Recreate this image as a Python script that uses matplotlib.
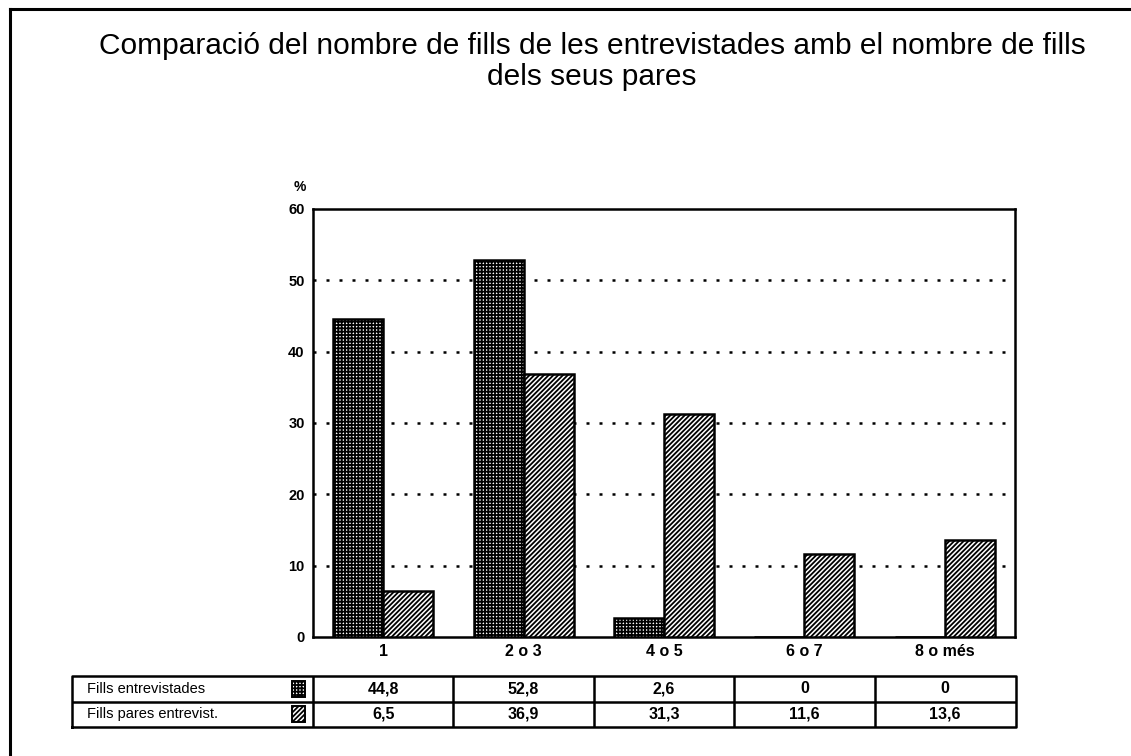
import matplotlib

matplotlib.use("Agg")
import matplotlib.pyplot as plt
from matplotlib.lines import Line2D
from matplotlib.patches import Rectangle
import numpy as np

plt.rcParams["font.family"] = ["Liberation Sans", "DejaVu Sans"]
plt.rcParams["hatch.linewidth"] = 1.3

categories = ["1", "2 o 3", "4 o 5", "6 o 7", "8 o més"]
fills_entrevistades = [44.6, 52.8, 2.6, 0, 0]
fills_pares = [6.5, 36.9, 31.3, 11.6, 13.6]
labels_entrevistades = ["44,8", "52,8", "2,6", "0", "0"]
labels_pares = ["6,5", "36,9", "31,3", "11,6", "13,6"]
row_names = ["Fills entrevistades", "Fills pares entrevist."]
yticks = [0, 10, 20, 30, 40, 50, 60]

W, H = 1131, 756
fig = plt.figure(figsize=(W / 100, H / 100), dpi=100)


def px_box(x0, y0, x1, y1):
    # pixel box (top-left origin) -> figure fraction rect
    return [x0 / W, 1 - y1 / H, (x1 - x0) / W, (y1 - y0) / H]


# outer frame of the scanned page
fig.add_artist(Line2D([10 / W, 10 / W], [0, 1 - 9 / H], color="black", lw=2.2))
fig.add_artist(Line2D([10 / W, 1], [1 - 9 / H, 1 - 9 / H], color="black", lw=2.2))

fig.text(592 / W, 1 - 46 / H,
         "Comparació del nombre de fills de les entrevistades amb el nombre de fills",
         ha="center", va="center", fontsize=21.5)
fig.text(592 / W, 1 - 77 / H, "dels seus pares", ha="center", va="center", fontsize=21.5)

ax = fig.add_axes(px_box(313, 209, 1015, 637))
x = np.arange(len(categories))
w = 0.355
cross_hatch, diag_hatch = "+++++", "///////"
ax.bar(x - 0.178, fills_entrevistades, width=w, facecolor="white", edgecolor="black",
       hatch=cross_hatch, linewidth=1.8, zorder=3)
ax.bar(x + 0.178, fills_pares, width=w, facecolor="white", edgecolor="black",
       hatch=diag_hatch, linewidth=1.8, zorder=3)

ax.set_xlim(-0.5, len(categories) - 0.5)
ax.set_ylim(0, 60)
ax.set_yticks(yticks)
ax.set_yticklabels([str(v) for v in yticks], fontsize=10.5, fontweight="bold")
ax.set_xticks(x)
ax.set_xticklabels(categories, fontsize=11.5, fontweight="bold")
ax.tick_params(axis="both", length=0, pad=6)
ax.tick_params(axis="x", pad=5)
for v in yticks[1:-1]:
    ax.axhline(v, color="black", lw=1.8, ls=(0, (1.2, 4)), zorder=1)
for s in ax.spines.values():
    s.set_linewidth(1.8)
ax.text(-0.019, 1.052, "%", transform=ax.transAxes, ha="center", va="center",
        fontsize=10, fontweight="bold")

# data table below the chart
tx0, tx1 = 72, 1016
tab = fig.add_axes(px_box(tx0, 676, tx1, 727))
left = -0.5 - (313 - tx0) / 140.4
right = len(categories) - 0.5 + (tx1 - 1015) / 140.4
tab.set_xlim(left, right)
tab.set_ylim(0, 2)
tab.axis("off")
lk = dict(color="black", lw=1.8)
tab.plot([left, right, right, left, left], [0, 0, 2, 2, 0], clip_on=False, **lk)
tab.plot([left, right], [1, 1], **lk)
for b in np.arange(-0.5, len(categories) - 0.5):
    tab.plot([b, b], [0, 2], **lk)

rows = [(labels_entrevistades, cross_hatch), (labels_pares, diag_hatch)]
for r, ((vals, hatch), name) in enumerate(zip(rows, row_names)):
    yc = 1.5 - r
    tab.text(left + 0.11, yc, name, ha="left", va="center", fontsize=10.5)
    tab.add_patch(Rectangle((-0.5 - 0.15, yc - 0.32), 0.095, 0.64, facecolor="white",
                            edgecolor="black", hatch=hatch, lw=1.4))
    for i, s in enumerate(vals):
        tab.text(i, yc, s, ha="center", va="center", fontsize=11.5, fontweight="bold")

fig.savefig("out.png", dpi=100)
